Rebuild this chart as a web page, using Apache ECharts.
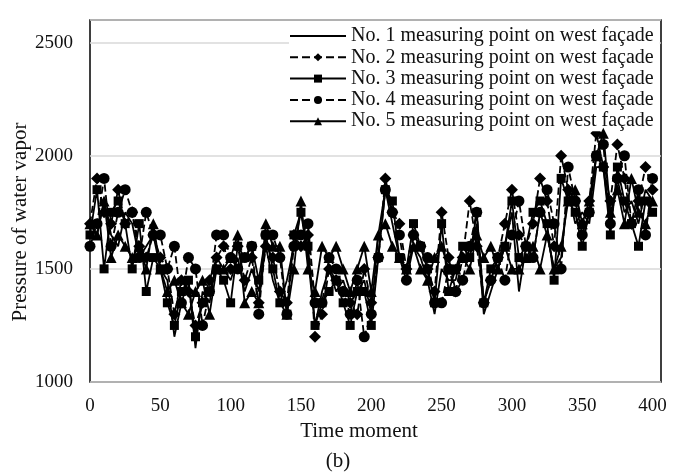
<!DOCTYPE html>
<html>
<head>
<meta charset="utf-8">
<script src="https://cdn.jsdelivr.net/npm/echarts@6/dist/echarts.min.js"></script>
<style>html,body{margin:0;padding:0;background:#fff}#c{width:677px;height:476px}</style>
</head>
<body>
<div id="c"></div>
<script>
// Time moments (every 5 units)
var timeMoments = [];
for (var k = 0; k <= 400; k += 5) timeMoments.push(k);

var seriesNames = [
  'No. 1 measuring point on west façade',
  'No. 2 measuring point on west façade',
  'No. 3 measuring point on west façade',
  'No. 4 measuring point on west façade',
  'No. 5 measuring point on west façade'
];

var point1 = [
  1700,1650,1800,1650,1600,1750,1700,1550,1600,1650,
  1500,1450,1200,1350,1450,1150,1400,1350,1550,1500,
  1450,1550,1400,1500,1400,1600,1450,1350,1450,1600,
  1750,1550,1250,1400,1500,1400,1450,1350,1400,1450,
  1300,1650,1850,1700,1550,1450,1600,1550,1450,1300,
  1500,1450,1450,1600,1550,1700,1300,1400,1500,1600,
  1750,1400,1600,1550,1750,1650,1500,1550,1850,1700,
  1750,1700,1950,1950,1700,1900,1750,1800,1700,1850,
  1800
];
var point2 = [
  1700,1900,1750,1700,1850,1700,1750,1600,1550,1650,
  1550,1500,1300,1450,1400,1250,1350,1450,1550,1600,
  1500,1600,1450,1550,1350,1600,1550,1400,1350,1650,
  1600,1650,1200,1300,1500,1450,1400,1350,1300,1500,
  1350,1550,1900,1750,1700,1500,1650,1600,1500,1400,
  1750,1550,1400,1550,1800,1600,1350,1450,1550,1700,
  1850,1650,1600,1700,1900,1800,1600,2000,1850,1800,
  1700,1800,2100,1950,1800,2050,1900,1700,1800,1950,
  1850
];
var point3 = [
  1650,1850,1500,1750,1800,1700,1500,1700,1400,1550,
  1500,1350,1250,1400,1450,1200,1350,1400,1500,1450,
  1350,1600,1550,1600,1450,1650,1500,1350,1300,1650,
  1750,1600,1250,1350,1400,1450,1350,1250,1400,1400,
  1250,1550,1850,1800,1550,1500,1700,1600,1500,1350,
  1700,1400,1500,1600,1550,1750,1350,1500,1550,1600,
  1800,1550,1600,1750,1800,1700,1450,1900,1800,1750,
  1600,1750,2000,1950,1650,1950,1800,1700,1600,1800,
  1750
];
var point4 = [
  1600,1700,1900,1600,1750,1850,1750,1550,1750,1650,
  1650,1500,1600,1350,1550,1500,1250,1400,1650,1650,
  1550,1500,1550,1600,1300,1650,1650,1550,1300,1600,
  1650,1700,1350,1350,1550,1500,1400,1300,1450,1200,
  1300,1550,1850,1750,1650,1450,1650,1600,1550,1350,
  1350,1500,1400,1450,1600,1750,1350,1450,1550,1450,
  1650,1800,1600,1550,1750,1850,1700,1500,1950,1800,
  1650,1750,2000,2050,1700,1900,2000,1700,1850,1650,
  1900
];
var point5 = [
  1700,1650,1800,1550,1650,1600,1550,1600,1500,1700,
  1500,1400,1450,1350,1300,1400,1450,1300,1500,1500,
  1550,1650,1350,1400,1350,1700,1600,1600,1300,1500,
  1800,1500,1400,1600,1550,1600,1500,1400,1500,1600,
  1400,1650,1700,1600,1550,1500,1600,1500,1450,1550,
  1600,1500,1500,1550,1500,1650,1550,1600,1500,1600,
  1500,1500,1550,1600,1500,1650,1500,1600,1800,1850,
  1700,1800,2000,2100,1750,1850,1700,1900,1750,1700,
  1800
];

var yTicks = [1000, 1500, 2000, 2500];
var xTicks = [0, 50, 100, 150, 200, 250, 300, 350, 400];

var allValues = [point1, point2, point3, point4, point5];
var symbols = ['circle', 'diamond', 'rect', 'circle', 'triangle'];
var symbolSizes = [0, 12, 9, 11, 11];
var lineTypes = ['solid', 'dashed', 'solid', 'dashed', 'solid'];

var FONT = "'Liberation Serif','Times New Roman',serif";

function pairs(vals) {
  return vals.map(function (v, i) { return [timeMoments[i], v]; });
}

var series = allValues.map(function (vals, i) {
  return {
    name: seriesNames[i],
    type: 'line',
    data: pairs(vals),
    symbol: symbols[i],
    symbolSize: symbolSizes[i],
    showSymbol: i !== 0,
    itemStyle: { color: '#000' },
    lineStyle: { color: '#000', width: 1.8, type: lineTypes[i] },
    animation: false,
    z: 2 + i
  };
});

var legendData = seriesNames.map(function (n, i) {
  if (i === 0) {
    return { name: n, itemStyle: { color: 'rgba(0,0,0,0)', borderWidth: 0, opacity: 0 } };
  }
  return { name: n };
});

var chart = echarts.init(document.getElementById('c'));
chart.setOption({
  animation: false,
  backgroundColor: '#fff',
  grid: {
    left: 90, right: 16, top: 20, bottom: 94,
    show: true, borderColor: '#000', borderWidth: 1.5, backgroundColor: 'transparent'
  },
  xAxis: {
    type: 'value', min: 0, max: 406, interval: 50,
    axisLine: { show: false }, axisTick: { show: false },
    splitLine: { show: false },
    axisLabel: {
      margin: 15, color: '#111', fontFamily: FONT, fontSize: 19,
      formatter: function (v) { return xTicks.indexOf(v) >= 0 ? String(v) : ''; }
    }
  },
  yAxis: {
    type: 'value', min: 1000, max: 2600, interval: 500,
    axisLine: { show: false }, axisTick: { show: false },
    splitLine: { show: true, lineStyle: { color: '#d9d9d9', width: 1.5 } },
    axisLabel: {
      margin: 17, color: '#111', fontFamily: FONT, fontSize: 19,
      formatter: function (v) { return yTicks.indexOf(v) >= 0 ? String(v) : ''; }
    }
  },
  legend: {
    orient: 'vertical', left: 289, top: 26,
    itemWidth: 56, itemHeight: 10, itemGap: 1.3,
    padding: [0, 6, 0, 0],
    backgroundColor: '#fff',
    textStyle: { fontFamily: FONT, fontSize: 20, color: '#111', lineHeight: 20 },
    data: legendData
  },
  graphic: [
    { type: 'text', x: 359, y: 431, style: { text: 'Time moment', font: '21px ' + FONT, fill: '#111', textAlign: 'center', textVerticalAlign: 'middle' } },
    { type: 'text', x: 338, y: 461, style: { text: '(b)', font: '21px ' + FONT, fill: '#111', textAlign: 'center', textVerticalAlign: 'middle' } },
    { type: 'text', x: 20, y: 222, rotation: Math.PI / 2, style: { text: 'Pressure of water vapor', font: '21px ' + FONT, fill: '#111', textAlign: 'center', textVerticalAlign: 'middle' } }
  ],
  series: series
});
</script>
</body>
</html>
